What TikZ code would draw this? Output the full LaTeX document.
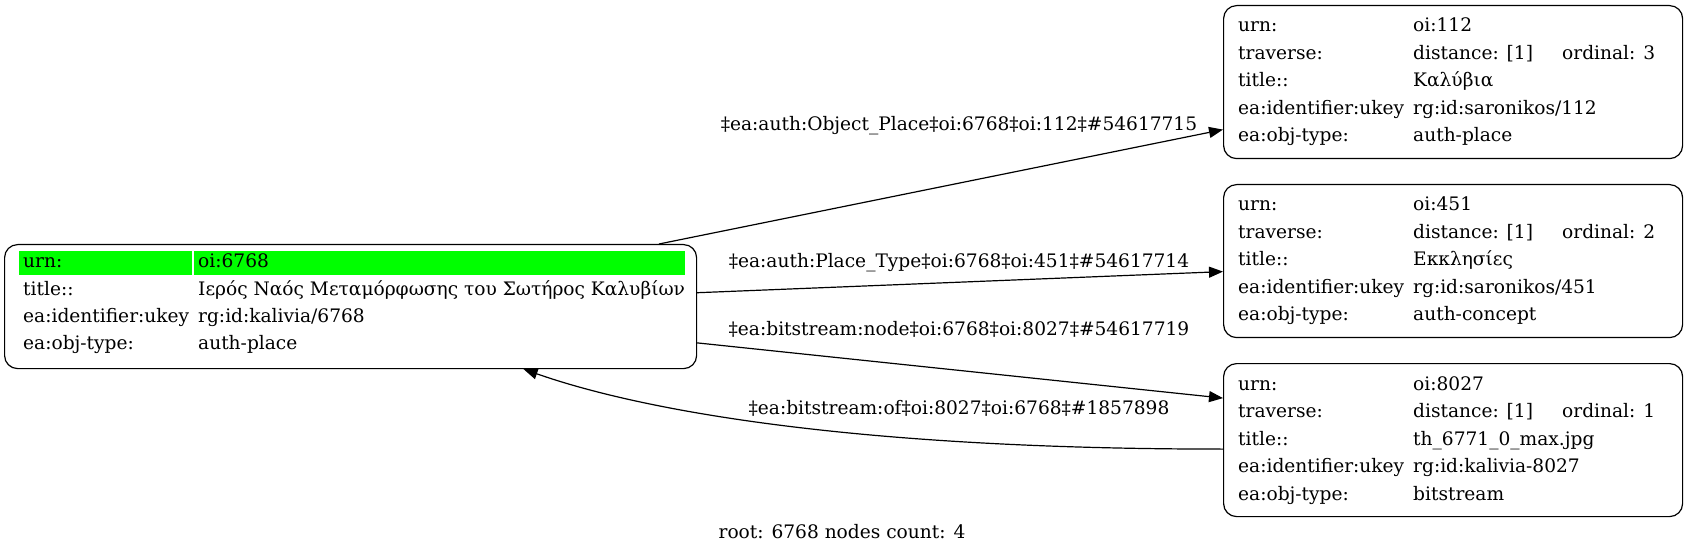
\documentclass[tikz,border=0pt]{standalone}
\usepackage{fontspec}
\setmainfont{DejaVu Serif}
\usetikzlibrary{arrows.meta,calc}
\definecolor{hl}{HTML}{00FF00}
\newcommand\infobox[7]{%
  \node[box, minimum width=459pt, minimum height=153pt, anchor=north west] (#1) at (1223,#2) {};
  \node[txt] (#1k1) at ([shift={(15,27)}]#1.north west) {urn:};
  \node[txt] (#1v1) at ([shift={(190,27)}]#1.north west) {#3};
  \node[txt] (#1k2) at ([shift={(15,54.5)}]#1.north west) {traverse:};
  \node[txt] (#1v2) at ([shift={(190,54.5)}]#1.north west) {distance: [1]};
  \node[txt] (#1o) at ([shift={(339,54.5)}]#1.north west) {ordinal: #4};
  \node[txt] (#1k3) at ([shift={(15,82)}]#1.north west) {title::};
  \node[txt] (#1v3) at ([shift={(190,82)}]#1.north west) {#5};
  \node[txt] (#1k4) at ([shift={(15,109.5)}]#1.north west) {ea:identifier:ukey};
  \node[txt] (#1v4) at ([shift={(190,109.5)}]#1.north west) {#6};
  \node[txt] (#1k5) at ([shift={(15,137)}]#1.north west) {ea:obj-type:};
  \node[txt] (#1v5) at ([shift={(190,137)}]#1.north west) {#7};
}
\begin{document}
\begin{tikzpicture}[x=1pt,y=-1pt,
  box/.style={draw, line width=1.2pt, rounded corners=13pt, inner sep=0pt},
  txt/.style={anchor=base west, inner sep=0pt, font=\fontsize{18.6}{22}\selectfont},
  lbl/.style={anchor=base, inner sep=0pt, font=\fontsize{18.6}{22}\selectfont},
  edge/.style={line width=1.2pt, -{Triangle[length=14pt,width=11pt]}}
]
\useasboundingbox (0,0) rectangle (1687,553);

% root node
\node[box, minimum width=692pt, minimum height=124pt, anchor=north west] (root) at (4,244) {};
\fill[hl] (19,251) rectangle (192,275);
\fill[hl] (194,251) rectangle (685,275);
\node[txt] (rk1) at (23,268) {urn:};
\node[txt] (rv1) at (198,268) {oi:6768};
\node[txt] (rk2) at (23,295.3) {title::};
\node[txt] (rv2) at (198,295.3) {Ιερός Ναός Μεταμόρφωσης του Σωτήρος Καλυβίων};
\node[txt] (rk3) at (23,322.6) {ea:identifier:ukey};
\node[txt] (rv3) at (198,322.6) {rg:id:kalivia/6768};
\node[txt] (rk4) at (23,349.9) {ea:obj-type:};
\node[txt] (rv4) at (198,349.9) {auth-place};

\infobox{n112}{5}{oi:112}{3}{Καλύβια}{rg:id:saronikos/112}{auth-place}
\infobox{n451}{184}{oi:451}{2}{Εκκλησίες}{rg:id:saronikos/451}{auth-concept}
\infobox{n8027}{363}{oi:8027}{1}{th\_6771\_0\_max.jpg}{rg:id:kalivia-8027}{bitstream}

% edges
\draw[edge] (root) -- ([yshift=-47.5pt]n112.west);
\draw[edge] (root) -- ([yshift=-10.5pt]n451.west);
\draw[edge] (root) -- ([yshift=42pt]n8027.west);
\draw[edge] ([yshift=-9pt]n8027.west) .. controls +(-373,0) and +(117,41) .. ([xshift=173pt]root.south);

% edge labels
\node[lbl] (l1) at (959,131) {‡ea:auth:Object\_Place‡oi:6768‡oi:112‡\#54617715};
\node[lbl] (l2) at (959,268) {‡ea:auth:Place\_Type‡oi:6768‡oi:451‡\#54617714};
\node[lbl] (l3) at (959,335) {‡ea:bitstream:node‡oi:6768‡oi:8027‡\#54617719};
\node[lbl] (l4) at (959,414) {‡ea:bitstream:of‡oi:8027‡oi:6768‡\#1857898};

% footer
\node[lbl] (foot) at (842,538) {root: 6768 nodes count: 4};
\end{tikzpicture}
\end{document}
